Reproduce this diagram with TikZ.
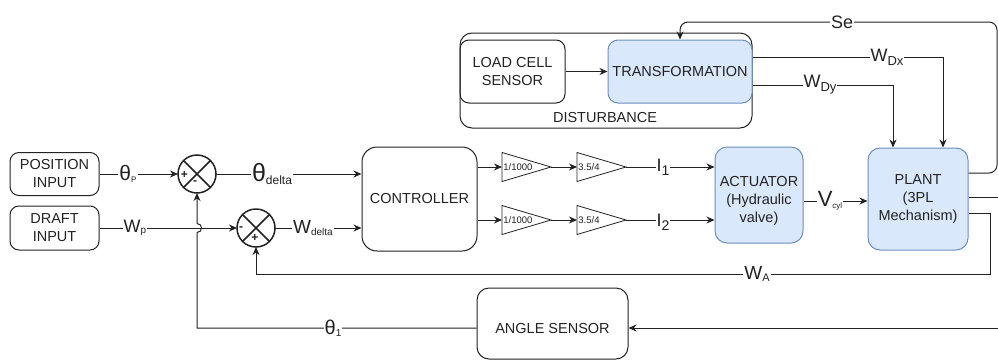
\documentclass[tikz,border=0pt]{standalone}
\usepackage{fontspec}
\setmainfont{Liberation Sans}
\usetikzlibrary{arrows.meta,shapes.geometric,calc}
\definecolor{bfill}{HTML}{DAE8FC}
\definecolor{bdraw}{HTML}{6C8EBF}
\definecolor{ink}{HTML}{222222}
\newcommand{\mysig}[5]{{\fontsize{#2}{#2}\selectfont #1}\raisebox{#5}{\fontsize{#4}{#4}\selectfont #3}}
\begin{document}
\begin{tikzpicture}[x=1pt,y=-1pt,
  box/.style={draw=ink, rounded corners=9pt, line width=1pt, inner sep=0pt, align=center, font=\fontsize{14.5}{18}\selectfont, text=ink},
  bluebox/.style={box, fill=bfill, draw=bdraw},
  arr/.style={-{Stealth[length=8pt,width=7pt]}, line width=1pt, draw=ink},
  ln/.style={line width=1pt, draw=ink},
  lbl/.style={fill=white, inner sep=1pt, text=ink},
  tri/.style={draw=ink, isosceles triangle, isosceles triangle stretches, minimum width=29pt, minimum height=49pt, inner sep=0pt, outer sep=0pt, line width=0.8pt, anchor=lower side},
  trilbl/.style={anchor=west, inner sep=0pt, font=\fontsize{9.5}{9.5}\selectfont, text=ink},
  sum/.style={circle, draw=ink, line width=1.5pt, minimum size=38pt, inner sep=0pt, outer sep=0pt},
  sgn/.style={inner sep=0pt, font=\fontsize{12}{12}\selectfont\bfseries, text=ink},
  txt/.style={inner sep=0pt, align=center, font=\fontsize{14.5}{18}\selectfont, text=ink}
]
\useasboundingbox (0,0) rectangle (998,360);

% blocks
\node[box, minimum width=89pt, minimum height=43pt] (pos) at (54.5,174) {POSITION\\INPUT};
\node[box, minimum width=89pt, minimum height=44pt] (draft) at (54.5,228) {DRAFT\\INPUT};
\node[sum] (s1) at (197,174) {};
\node[sum] (s2) at (256,228) {};
\node[box, rounded corners=15pt, minimum width=115pt, minimum height=104pt] (ctrl) at (419.5,199) {CONTROLLER};
\node[tri] (t1a) at (502,167) {};
\node[tri] (t1b) at (577,167) {};
\node[tri] (t2a) at (502,220) {};
\node[tri] (t2b) at (577,220) {};
\node[bluebox, rounded corners=12pt, minimum width=88pt, minimum height=96pt] (act) at (759,195) {};
\node[txt] (acttxt) at (759,201) {ACTUATOR\\(Hydraulic\\valve)};
\node[bluebox, rounded corners=12pt, minimum width=100pt, minimum height=102pt] (plant) at (918,199) {PLANT\\(3PL\\Mechanism)};
\node[box, rounded corners=12pt, minimum width=292pt, minimum height=95pt] (dist) at (606,80.5) {};
\node[box, minimum width=105pt, minimum height=63pt] (load) at (512.5,71.5) {LOAD CELL\\SENSOR};
\node[bluebox, rounded corners=10pt, minimum width=144pt, minimum height=63pt] (trans) at (680,71.5) {TRANSFORMATION};
\node[txt] (disttxt) at (605,118) {DISTURBANCE};
\node[box, rounded corners=12pt, minimum width=151pt, minimum height=71pt] (angle) at (552.5,323.5) {};
\node[txt] (angtxt) at (552.5,328) {ANGLE SENSOR};

% summing junction details
\draw[line width=1.5pt, ink] (s1.north west) -- (s1.south east) (s1.north east) -- (s1.south west);
\draw[line width=1.5pt, ink] (s2.north west) -- (s2.south east) (s2.north east) -- (s2.south west);
\node[sgn] at (184.5,175) {+};
\node[sgn] at (195,182.5) {-};
\node[sgn] at (241,229) {-};
\node[sgn] at (255,238) {+};

% triangle gains
\node[trilbl] at ($(t1a.lower side)+(1.2,0)$) {1/1000};
\node[trilbl] at ($(t2a.lower side)+(1.2,0)$) {1/1000};
\node[trilbl] at ($(t1b.lower side)+(1.2,0)$) {3.5/4};
\node[trilbl] at ($(t2b.lower side)+(1.2,0)$) {3.5/4};

% helper coordinates
\coordinate (e1) at (998,197);
\coordinate (e2) at (998,328);
\coordinate (yse) at (0,173);
\coordinate (setop) at (997,22);
\coordinate (wdx) at (943,57);
\coordinate (wdy) at (893,85);
\coordinate (wa) at (990,213);
\coordinate (wab) at (990,274);
\coordinate (fb1) at (197,328);

% connectors
\draw[arr] (pos.east) -- (s1.west);
\draw[arr] (s1.east) -- (ctrl.west |- s1.east);
\draw[arr] (draft.east) -- (s2.west);
\draw[arr] (s2.east) -- (ctrl.west |- s2.east);
\draw[arr] (ctrl.east |- t1a.lower side) -- (t1a.lower side);
\draw[arr] (ctrl.east |- t2a.lower side) -- (t2a.lower side);
\draw[arr] (t1a.apex) -- (t1b.lower side);
\draw[arr] (t2a.apex) -- (t2b.lower side);
\draw[arr] (t1b.apex) -- (act.west |- t1b.apex);
\draw[arr] (t2b.apex) -- (act.west |- t2b.apex);
\draw[arr] (act.east |- acttxt) -- (plant.west |- acttxt);
\draw[arr] (load.east) -- (trans.west);
\draw[arr, rounded corners=8pt] (plant.east |- yse) -- (setop |- yse) -- (setop) -- (trans.north |- setop) -- (trans.north);
\draw[arr] (trans.east |- wdx) -- (wdx) -- (wdx |- plant.north);
\draw[arr] (trans.east |- wdy) -- (wdy) -- (wdy |- plant.north);
\draw[ln] (plant.east |- e1) -- (e1);
\draw[arr] (e2) -- (angle.east |- e2);
\draw[arr] (plant.east |- wa) -- (wa) -- (wab) -- (s2.south |- wab) -- (s2.south);
\draw[arr] (angle.west |- e2) -- (fb1) -- (197,232.5) .. controls (203,232.5) and (203,223.5) .. (197,223.5) -- (s1.south);

% signal labels
\node[lbl] at (128,174) {\mysig{θ}{21}{P}{8}{-2pt}};
\node[lbl] at (272,174) {\mysig{θ}{25}{delta}{12}{-3pt}};
\node[lbl] at (135,228) {\mysig{W}{18}{p}{10}{-1pt}};
\node[lbl] at (313,228) {\mysig{W}{19}{delta}{10}{-2pt}};
\node[lbl] at (663,167) {\mysig{I}{18}{1}{14}{-4pt}};
\node[lbl] at (663,222) {\mysig{I}{18}{2}{14}{-4pt}};
\node[lbl] at (830,201) {\mysig{V}{22}{cyl}{8}{-2pt}};
\node[lbl] at (757,274) {\mysig{W}{19}{A}{11}{-2pt}};
\node[lbl, font=\fontsize{18}{18}\selectfont] at (842,22) {Se};
\node[lbl] at (887,57) {\mysig{W}{18}{Dx}{13}{-4pt}};
\node[lbl] at (820,85) {\mysig{W}{18}{Dy}{13}{-4pt}};
\node[lbl] at (333,328) {\mysig{θ}{20}{1}{10}{-2pt}};
\end{tikzpicture}
\end{document}
